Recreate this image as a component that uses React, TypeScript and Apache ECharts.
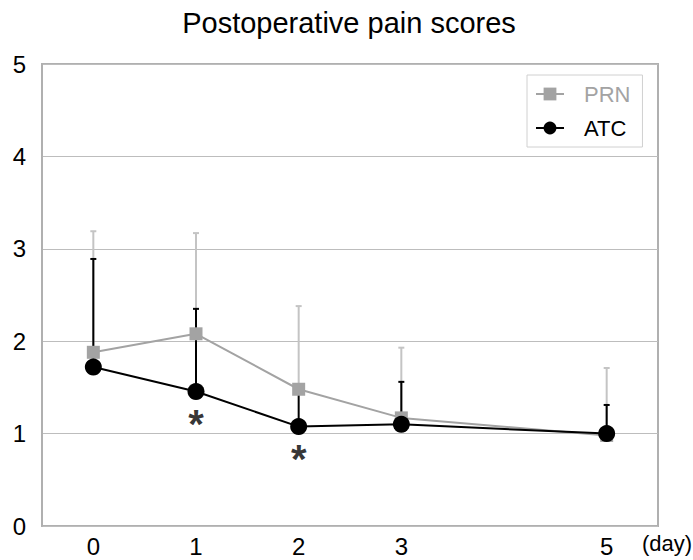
import React, { useEffect, useRef } from "react";
import * as echarts from "echarts";

const title = "Postoperative pain scores";
const days = [0, 1, 2, 3, 5];
const prnMean = [1.88, 2.08, 1.48, 1.17, 0.98];
const prnUpper = [3.19, 3.17, 2.38, 1.93, 1.71];
const atcMean = [1.72, 1.455, 1.076, 1.1, 1.0];
const atcUpper = [2.89, 2.35, 1.46, 1.56, 1.31];
const sigDays = [1, 2];
const yTicks = [0, 1, 2, 3, 4, 5];
const xName = "(day)";

const GRAY = "#a3a3a3";
const GRAY_ERR = "#c4c4c4";
const BLACK = "#000000";
const FONT = "Liberation Sans, Arial, sans-serif";

function errSeries(name: string, mean: number[], upper: number[], color: string, z: number) {
  return {
    type: "custom",
    name: name + "-err",
    z,
    silent: true,
    data: days.map((d, i) => [d, mean[i], upper[i]]),
    renderItem: (params: any, api: any) => {
      const x = api.value(0);
      const p0 = api.coord([x, api.value(1)]);
      const p1 = api.coord([x, api.value(2)]);
      return {
        type: "group",
        children: [
          {
            type: "line",
            shape: { x1: p0[0], y1: p0[1], x2: p1[0], y2: p1[1] },
            style: { stroke: color, lineWidth: 2 },
          },
          {
            type: "line",
            shape: { x1: p1[0] - 3, y1: p1[1], x2: p1[0] + 3, y2: p1[1] },
            style: { stroke: color, lineWidth: 2 },
          },
        ],
      };
    },
  };
}

export default function App() {
  const ref = useRef<HTMLDivElement>(null);
  useEffect(() => {
    if (!ref.current) return;
    const chart = echarts.init(ref.current, null, { renderer: "svg" });
    chart.setOption({
      animation: false,
      backgroundColor: "#ffffff",
      textStyle: { fontFamily: FONT },
      title: {
        text: title,
        left: 344,
        textAlign: "center",
        top: 3,
        textStyle: { fontFamily: FONT, fontSize: 29, fontWeight: "normal", color: "#000" },
      },
      legend: {
        left: 527,
        top: 75,
        orient: "vertical",
        padding: [8, 12, 8, 8],
        itemGap: 12,
        itemWidth: 28,
        itemHeight: 16,
        borderColor: "#d0d0d0",
        borderWidth: 1,
        textStyle: { fontFamily: FONT, fontSize: 22, color: "#000", padding: [0, 0, 0, 15] },
        data: [
          { name: "PRN", textStyle: { color: GRAY } },
          { name: "ATC", textStyle: { color: BLACK } },
        ],
      },
      grid: { left: 42, right: 35, top: 64, bottom: 34, containLabel: false },
      xAxis: {
        type: "value",
        min: -0.5,
        max: 5.5,
        axisLine: { show: false },
        axisTick: { show: false },
        splitLine: { show: false },
        axisLabel: {
          customValues: days,
          fontFamily: FONT,
          fontSize: 24,
          color: "#000",
          margin: 8,
        },
      },
      yAxis: {
        type: "value",
        min: 0,
        max: 5,
        interval: 1,
        axisLine: { show: true, onZero: false, lineStyle: { color: "#b0b0b0", width: 2 } },
        axisTick: { show: false },
        splitLine: { show: true, lineStyle: { color: "#bdbdbd", width: 1 } },
        axisLabel: {
          customValues: yTicks,
          fontFamily: FONT,
          fontSize: 24,
          color: "#000",
          margin: 16,
        },
      },
      graphic: [
        {
          type: "rect",
          shape: { x: 42, y: 64, width: 616, height: 462 },
          style: { fill: "none", stroke: "#b0b0b0", lineWidth: 2 },
          z: 0,
          silent: true,
        },
        {
          type: "text",
          x: 692,
          y: 543,
          style: {
            text: xName,
            fontFamily: FONT,
            fontSize: 22,
            fill: "#000",
            textAlign: "right",
            textVerticalAlign: "middle",
          },
        },
      ],
      series: [
        errSeries("PRN", prnMean, prnUpper, GRAY_ERR, 2),
        errSeries("ATC", atcMean, atcUpper, BLACK, 3),
        {
          type: "line",
          name: "PRN",
          z: 4,
          data: days.map((d, i) => [d, prnMean[i]]),
          symbol: "rect",
          symbolSize: 13,
          itemStyle: { color: GRAY },
          lineStyle: { color: GRAY, width: 2 },
        },
        {
          type: "line",
          name: "ATC",
          z: 5,
          data: days.map((d, i) => [d, atcMean[i]]),
          symbol: "circle",
          symbolSize: 17,
          itemStyle: { color: BLACK },
          lineStyle: { color: BLACK, width: 2 },
        },
        {
          type: "scatter",
          name: "sig",
          z: 6,
          silent: true,
          symbolSize: 0,
          data: sigDays.map((d) => [d, atcMean[days.indexOf(d)]]),
          label: {
            show: true,
            formatter: "*",
            position: "inside",
            offset: [0, 32],
            fontFamily: FONT,
            fontSize: 40,
            fontWeight: "bold",
            color: "#000",
          },
        },
      ],
    });
    return () => chart.dispose();
  }, []);
  return (
    <div
      ref={ref}
      style={{ position: "absolute", left: 0, top: 0, width: 693, height: 560 }}
    />
  );
}
